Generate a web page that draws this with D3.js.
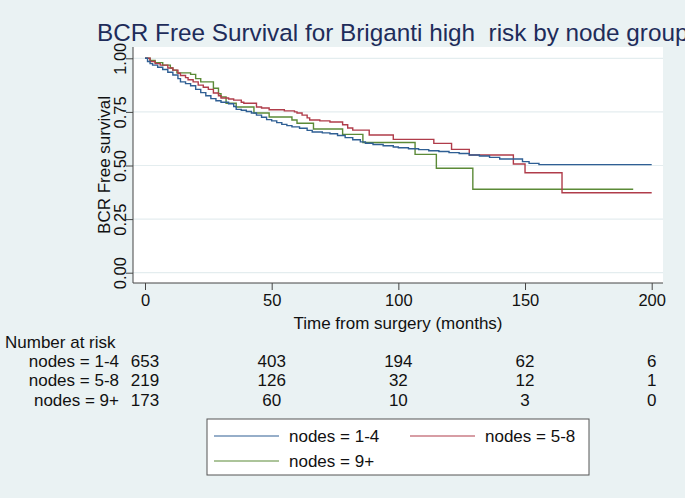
<!DOCTYPE html>
<html><head><meta charset="utf-8">
<script src="https://cdn.jsdelivr.net/npm/d3@7"></script>
<style>
html,body{margin:0;padding:0;background:#eaf2f3;}
svg{display:block;font-family:"Liberation Sans",Arial,sans-serif;}
</style></head>
<body>
<svg id="chart" width="685" height="498"></svg>
<script>
// ---- data ----
const title = "BCR Free Survival for Briganti high  risk by node group";
const groups = ["nodes = 1-4", "nodes = 5-8", "nodes = 9+"];
const colors = ["#2f5f94", "#b03c4a", "#5b8a37"];

const timeG1 = [0,1,2,3,5,7,9,11,13,14,16,18,20,22,24,26,28,30,33,35,36,38,40,42,44,46,48,50,52,54,56,58,61,64,66,70,73,76,79,82,85,87,90,94,98,100,104,108,112,116,120,124,128,132,136,140,149,151.6,155.5];
const survG1 = [1,0.985,0.975,0.968,0.958,0.948,0.935,0.922,0.905,0.89,0.882,0.872,0.855,0.84,0.825,0.812,0.802,0.795,0.788,0.775,0.762,0.758,0.752,0.745,0.735,0.725,0.714,0.708,0.700,0.692,0.686,0.680,0.674,0.664,0.656,0.652,0.648,0.640,0.630,0.620,0.610,0.604,0.598,0.592,0.586,0.583,0.578,0.574,0.569,0.565,0.560,0.556,0.549,0.544,0.538,0.530,0.518,0.510,0.504];
const endG1 = 200;

const timeG2 = [0,2,4,6,9,11,13,14,16,17,19,21,23,25,27,29,30,33,35,38,39,44,46,49,55,59,60,62,64,65,69,73,78,80,82,88.5,98,114,121,128,145.4,150,164.6];
const survG2 = [1,0.985,0.975,0.968,0.955,0.945,0.93,0.92,0.91,0.9,0.89,0.875,0.865,0.855,0.838,0.825,0.815,0.81,0.805,0.795,0.79,0.773,0.768,0.76,0.755,0.75,0.745,0.735,0.722,0.712,0.708,0.703,0.69,0.675,0.665,0.642,0.622,0.603,0.575,0.549,0.507,0.466,0.373];
const endG2 = 200;

const timeG3 = [0,2,4,7,10,11,12.6,18,20,22,27,29,30,32,36,43,49,58,60,66.5,78,86,106.6,115,129.4];
const survG3 = [1,0.99,0.98,0.968,0.955,0.945,0.932,0.925,0.905,0.89,0.86,0.835,0.82,0.79,0.773,0.745,0.726,0.712,0.697,0.67,0.645,0.607,0.552,0.487,0.389];
const endG3 = 192.7;

const xTicks = [0,50,100,150,200];
const yTicks = [0,0.25,0.5,0.75,1];
const riskG1 = [653,403,194,62,6];
const riskG2 = [219,126,32,12,1];
const riskG3 = [173,60,10,3,0];

// ---- layout ----
const svg = d3.select("#chart");
const plot = {left:133, right:663, top:47, bottom:283};
const x = d3.scaleLinear().domain([0,200]).range([145, 651.7]);
const y = d3.scaleLinear().domain([0,1]).range([272.7, 58.3]);
const FS = 17;

svg.append("rect").attr("width",685).attr("height",498).attr("fill","#eaf2f3");
svg.append("rect").attr("x",plot.left).attr("y",plot.top)
  .attr("width",plot.right-plot.left).attr("height",plot.bottom-plot.top).attr("fill","#ffffff");

// gridlines
svg.append("g").selectAll("line").data(yTicks).join("line")
  .attr("x1",plot.left).attr("x2",plot.right)
  .attr("y1",d=>y(d)).attr("y2",d=>y(d))
  .attr("stroke","#e4edef").attr("stroke-width",1.2);

// title
svg.append("text").attr("x",97).attr("y",41)
  .attr("font-size",24.3).attr("fill","#1e2c5a")
  .style("white-space","pre").text(title);

// axes
const yAxis = d3.axisLeft(y).tickValues(yTicks).tickFormat(d3.format(".2f")).tickSize(7).tickSizeOuter(0);
const gy = svg.append("g").attr("transform",`translate(${plot.left},0)`).call(yAxis);
gy.select(".domain").remove();
gy.append("line").attr("x1",0).attr("x2",0).attr("y1",plot.top).attr("y2",plot.bottom).attr("stroke","#444");
gy.selectAll(".tick line").attr("stroke","#444");
gy.selectAll(".tick text")
  .attr("font-size",16.5).attr("fill","#111").attr("font-family","Liberation Sans, Arial, sans-serif")
  .attr("text-anchor","middle").attr("dy",null)
  .attr("x",null).attr("y",null)
  .attr("transform","translate(-7,0) rotate(-90)");

const xAxis = d3.axisBottom(x).tickValues(xTicks).tickFormat(d3.format("d")).tickSize(7).tickSizeOuter(0);
const gx = svg.append("g").attr("transform",`translate(0,${plot.bottom})`).call(xAxis);
gx.select(".domain").remove();
gx.append("line").attr("x1",plot.left).attr("x2",plot.right).attr("y1",0).attr("y2",0).attr("stroke","#444");
gx.selectAll(".tick line").attr("stroke","#444");
gx.selectAll(".tick text").attr("font-size",16.5).attr("fill","#111")
  .attr("font-family","Liberation Sans, Arial, sans-serif").attr("y",11).attr("dy","0.71em");

svg.append("text").attr("transform","translate(110,165) rotate(-90)")
  .attr("text-anchor","middle").attr("font-size",FS).attr("fill","#111").text("BCR Free survival");
svg.append("text").attr("x",398).attr("y",329)
  .attr("text-anchor","middle").attr("font-size",FS).attr("fill","#111").text("Time from surgery (months)");

// curves
const series = [
  {t:timeG1, s:survG1, end:endG1},
  {t:timeG2, s:survG2, end:endG2},
  {t:timeG3, s:survG3, end:endG3}
];
const line = d3.line().x(d=>x(d[0])).y(d=>y(d[1])).curve(d3.curveStepAfter);
[2,1,0].forEach(i=>{
  const sr = series[i];
  const pts = sr.t.map((t,j)=>[t,sr.s[j]]);
  pts.push([sr.end, sr.s[sr.s.length-1]]);
  svg.append("path").datum(pts).attr("d",line)
    .attr("fill","none").attr("stroke",colors[i]).attr("stroke-width",1.4);
});

// number at risk table
svg.append("text").attr("x",5).attr("y",348).attr("font-size",FS).attr("fill","#111").text("Number at risk");
const risks = [riskG1, riskG2, riskG3];
const rowY = [367, 386, 406];
risks.forEach((r,i)=>{
  svg.append("text").attr("x",119).attr("y",rowY[i]).attr("text-anchor","end")
    .attr("font-size",FS).attr("fill","#111").text(groups[i]);
  svg.append("g").selectAll("text").data(r).join("text")
    .attr("x",(d,j)=>x(xTicks[j])).attr("y",rowY[i]).attr("text-anchor","middle")
    .attr("font-size",FS).attr("fill","#111").text(d=>d);
});

// legend
const lg = svg.append("g");
lg.append("rect").attr("x",207).attr("y",419).attr("width",382).attr("height",56)
  .attr("fill","#ffffff").attr("stroke","#555").attr("stroke-width",1);
const legPos = [[214,436],[410,436],[214,461]];
groups.forEach((g,i)=>{
  const [lx,ly] = legPos[i];
  lg.append("line").attr("x1",lx).attr("x2",lx+65).attr("y1",ly).attr("y2",ly)
    .attr("stroke",colors[i]).attr("stroke-width",1.2);
  lg.append("text").attr("x",lx+75).attr("y",ly+6).attr("font-size",FS).attr("fill","#111").text(g);
});
</script>
</body></html>
